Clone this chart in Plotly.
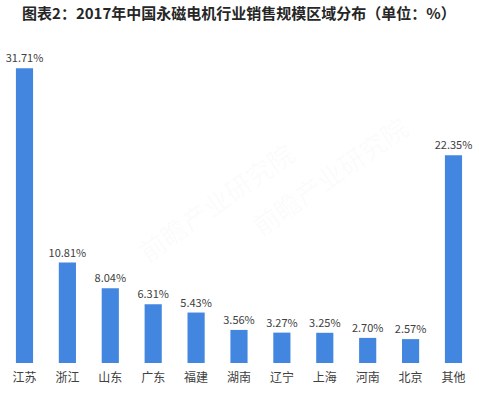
import plotly.graph_objects as go

categories = ["江苏", "浙江", "山东", "广东", "福建", "湖南", "辽宁", "上海", "河南", "北京", "其他"]
values = [31.71, 10.81, 8.04, 6.31, 5.43, 3.56, 3.27, 3.25, 2.70, 2.57, 22.35]
value_labels = [f"{v:.2f}%" for v in values]
title_text = "图表2：2017年中国永磁电机行业销售规模区域分布（单位：%）"

FONT = "Noto Sans CJK SC, Microsoft YaHei, sans-serif"

fig = go.Figure()
fig.add_trace(go.Bar(
    x=categories,
    y=values,
    text=value_labels,
    textposition="outside",
    constraintext="none",
    textfont=dict(family=FONT, size=11, color="#404040"),
    marker=dict(color="#4286e0", line=dict(width=0)),
    width=0.4,
    cliponaxis=False,
    hoverinfo="skip",
))

# faint watermarks
for (wx, wy) in [(0.45, 0.30), (0.87, 0.62)]:
    fig.add_annotation(
        x=wx, y=wy, xref="paper", yref="paper",
        text="前瞻产业研究院", showarrow=False, textangle=-35,
        font=dict(family=FONT, size=26, color="rgba(200,200,200,0.07)"),
    )

fig.update_layout(
    width=479, height=397,
    margin=dict(l=0, r=0, t=60, b=34, pad=0),
    paper_bgcolor="white", plot_bgcolor="white",
    showlegend=False,
    title=dict(
        text=title_text, x=0.046, xanchor="left", y=0.965, yanchor="middle",
        font=dict(family=FONT, size=15, color="#262626", weight="bold"),
    ),
    xaxis=dict(
        showline=False, showgrid=False, zeroline=False, ticks="",
        tickfont=dict(family=FONT, size=12, color="#404040"),
        ticklabelstandoff=6,
        range=[-0.571, 10.595],
    ),
    yaxis=dict(
        visible=False, range=[0, 32.6], showgrid=False, zeroline=False,
    ),
)

fig.write_html(
    "out.html",
    config={"displayModeBar": False, "staticPlot": True},
    post_script="document.body.style.margin='0';document.body.style.overflow='hidden';",
)
